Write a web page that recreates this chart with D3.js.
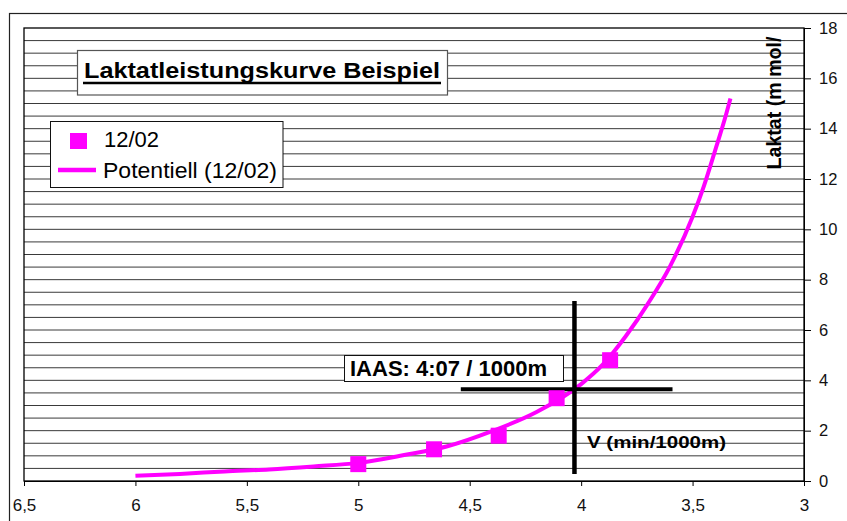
<!DOCTYPE html>
<html><head><meta charset="utf-8">
<script src="https://cdn.jsdelivr.net/npm/d3@7"></script>
<style>
html,body{margin:0;padding:0;background:#fff;}
svg{display:block;font-family:"Liberation Sans",Arial,sans-serif;}
</style></head>
<body>
<svg id="chart" width="847" height="521"></svg>
<script>
// ---- data ----
const pointsX = [5.0, 4.66, 4.37, 4.11, 3.87];        // V (min/1000m)
const pointsY = [0.67, 1.26, 1.80, 3.29, 4.80];       // Laktat
const trendX = [6.0, 5.8, 5.6, 5.4, 5.2, 5.0, 4.8, 4.6, 4.4, 4.2, 4.0, 3.9, 3.8, 3.7, 3.6, 3.5, 3.45, 3.4, 3.35, 3.33];
const trendY = [0.21, 0.28, 0.38, 0.46, 0.58, 0.72, 1.02, 1.38, 1.98, 2.74, 3.85, 4.65, 5.75, 7.05, 8.55, 10.5, 11.7, 13.1, 14.55, 15.2];
const xTickValues = [6.5, 6, 5.5, 5, 4.5, 4, 3.5, 3];
const xTickLabels = ["6,5", "6", "5,5", "5", "4,5", "4", "3,5", "3"];
const yTickValues = [0, 2, 4, 6, 8, 10, 12, 14, 16, 18];
const seriesName = "12/02";
const trendName = "Potentiell (12/02)";
const chartTitle = "Laktatleistungskurve Beispiel";
const yTitle = "Laktat (m mol/";
const xTitle = "V (min/1000m)";
const iaasLabel = "IAAS: 4:07 / 1000m";
// crosshair (data coords)
const crossV = {x: 4.03, y0: 0.28, y1: 7.15};
const crossH = {y: 3.65, x0: 4.54, x1: 3.59};

const svg = d3.select("#chart");
const L = 24, R = 804, T = 28, B = 481;
const x = d3.scaleLinear().domain([6.5, 3]).range([L, R]);
const y = d3.scaleLinear().domain([0, 18]).range([B, T]);
const magenta = "#ff00ff";

// outer frame
svg.append("rect").attr("x", 9.5).attr("y", 13.5).attr("width", 860).attr("height", 530)
  .attr("fill", "#fff").attr("stroke", "#222").attr("stroke-width", 1.2);

// gridlines every 0.5
const gridVals = d3.range(0.5, 18, 0.5);
svg.append("g").selectAll("line").data(gridVals).join("line")
  .attr("x1", L).attr("x2", R).attr("y1", d => y(d)).attr("y2", d => y(d))
  .attr("stroke", "#3a3a3a").attr("stroke-width", 1);

// plot frame
svg.append("rect").attr("x", L).attr("y", T).attr("width", R - L).attr("height", B - T)
  .attr("fill", "none").attr("stroke", "#000").attr("stroke-width", 1.3);

// x axis
const xAxis = d3.axisBottom(x).tickValues(xTickValues)
  .tickFormat((d, i) => xTickLabels[i]).tickSizeInner(5).tickSizeOuter(0).tickPadding(13);
const gx = svg.append("g").attr("transform", `translate(0,${B})`).call(xAxis);
gx.select(".domain").attr("stroke", "#000");
gx.selectAll("line").attr("stroke", "#000");
gx.selectAll("text").attr("font-size", 17).attr("fill", "#111")
  .attr("font-family", "Liberation Sans, Arial, sans-serif");

// y axis (right)
const yAxis = d3.axisRight(y).tickValues(yTickValues).tickSizeInner(7).tickSizeOuter(0).tickPadding(8);
const gy = svg.append("g").attr("transform", `translate(${R},0)`).call(yAxis);
gy.select(".domain").attr("stroke", "#000");
gy.selectAll("line").attr("stroke", "#000");
gy.selectAll("text").attr("font-size", 16.5).attr("fill", "#111")
  .attr("font-family", "Liberation Sans, Arial, sans-serif");

// y title
svg.append("text").attr("transform", "translate(781,103) rotate(-90)")
  .attr("text-anchor", "middle").attr("font-weight", "bold").attr("font-size", 20)
  .attr("textLength", 133).attr("lengthAdjust", "spacingAndGlyphs")
  .attr("fill", "#000").text(yTitle);

// trend line
const line = d3.line().x((d, i) => x(trendX[i])).y((d, i) => y(trendY[i])).curve(d3.curveMonotoneX);
svg.append("path").datum(trendY).attr("d", line)
  .attr("fill", "none").attr("stroke", magenta).attr("stroke-width", 4);

// crosshair
svg.append("line").attr("x1", x(crossH.x0)).attr("x2", x(crossH.x1))
  .attr("y1", y(crossH.y)).attr("y2", y(crossH.y)).attr("stroke", "#000").attr("stroke-width", 4);
svg.append("line").attr("x1", x(crossV.x)).attr("x2", x(crossV.x))
  .attr("y1", y(crossV.y0)).attr("y2", y(crossV.y1)).attr("stroke", "#000").attr("stroke-width", 4.5);

// points
const sz = 16;
svg.append("g").selectAll("rect").data(pointsY).join("rect")
  .attr("x", (d, i) => x(pointsX[i]) - sz / 2).attr("y", d => y(d) - sz / 2)
  .attr("width", sz).attr("height", sz).attr("fill", magenta);

// x title
svg.append("text").attr("x", 587).attr("y", 448).attr("font-weight", "bold").attr("font-size", 17)
  .attr("textLength", 139).attr("lengthAdjust", "spacingAndGlyphs").attr("fill", "#000").text(xTitle);

// IAAS label box
svg.append("rect").attr("x", 344.5).attr("y", 355.5).attr("width", 219).attr("height", 26)
  .attr("fill", "#fff").attr("stroke", "#111").attr("stroke-width", 1);
svg.append("text").attr("x", 350).attr("y", 376).attr("font-weight", "bold").attr("font-size", 22)
  .attr("textLength", 197).attr("lengthAdjust", "spacingAndGlyphs").attr("fill", "#000").text(iaasLabel);

// title box
svg.append("rect").attr("x", 77.5).attr("y", 50.5).attr("width", 370).attr("height", 44.5)
  .attr("fill", "#fff").attr("stroke", "#555").attr("stroke-width", 1.2);
svg.append("text").attr("x", 84).attr("y", 78).attr("font-weight", "bold").attr("font-size", 21.5)
  .attr("textLength", 356).attr("lengthAdjust", "spacingAndGlyphs").attr("fill", "#000").text(chartTitle);
svg.append("line").attr("x1", 83).attr("x2", 441).attr("y1", 83).attr("y2", 83)
  .attr("stroke", "#000").attr("stroke-width", 2.6);

// legend
svg.append("rect").attr("x", 50.5).attr("y", 121.5).attr("width", 232.5).attr("height", 66)
  .attr("fill", "#fff").attr("stroke", "#111").attr("stroke-width", 1);
svg.append("rect").attr("x", 70).attr("y", 133).attr("width", 17).attr("height", 16).attr("fill", magenta);
svg.append("text").attr("x", 104).attr("y", 147).attr("font-size", 22)
  .attr("textLength", 55).attr("lengthAdjust", "spacingAndGlyphs").attr("fill", "#000").text(seriesName);
svg.append("line").attr("x1", 58).attr("x2", 96).attr("y1", 170).attr("y2", 170)
  .attr("stroke", magenta).attr("stroke-width", 4.3);
svg.append("text").attr("x", 103).attr("y", 178).attr("font-size", 22)
  .attr("textLength", 174).attr("lengthAdjust", "spacingAndGlyphs").attr("fill", "#000").text(trendName);
</script>
</body></html>
